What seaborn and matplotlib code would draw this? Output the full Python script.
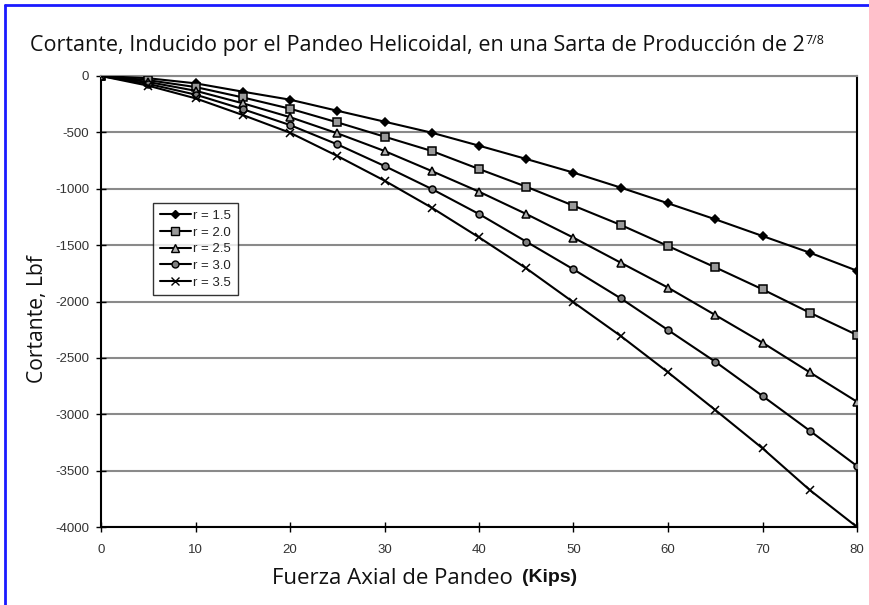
import matplotlib
matplotlib.use("Agg")
import matplotlib.pyplot as plt
from matplotlib.lines import Line2D
import numpy as np
import pandas as pd
import seaborn as sns

# Axial buckling load (kips)
fuerza = [0, 5, 10, 15, 20, 25, 30, 35, 40, 45, 50, 55, 60, 65, 70, 75, 80]

# Induced shear (lbf) for each radial clearance ratio r
r_labels = ["r = 1.5", "r = 2.0", "r = 2.5", "r = 3.0", "r = 3.5"]
cort_15 = [0, -20, -65, -139, -210, -308, -405, -503, -618, -736, -857, -990, -1129, -1271, -1419, -1567, -1727]
cort_20 = [0, -37, -98, -190, -290, -411, -538, -665, -825, -982, -1150, -1321, -1508, -1697, -1892, -2099, -2297]
cort_25 = [0, -53, -131, -242, -365, -508, -665, -843, -1026, -1224, -1434, -1656, -1877, -2120, -2365, -2628, -2889]
cort_30 = [0, -70, -165, -294, -435, -606, -798, -1002, -1224, -1469, -1715, -1972, -2253, -2534, -2838, -3146, -3459]
cort_35 = [0, -86, -198, -346, -503, -709, -928, -1168, -1431, -1706, -2007, -2306, -2628, -2962, -3302, -3672, -4000]

x_ticks = [0, 10, 20, 30, 40, 50, 60, 70, 80]
y_ticks = [0, -500, -1000, -1500, -2000, -2500, -3000, -3500, -4000]

series = [cort_15, cort_20, cort_25, cort_30, cort_35]
df = pd.concat(
    [pd.DataFrame({"fuerza": fuerza, "cortante": vals, "r": lab})
     for lab, vals in zip(r_labels, series)],
    ignore_index=True,
)

sns.set_theme(style="white")
plt.rcParams["font.family"] = ["Liberation Sans", "DejaVu Sans"]
plt.rcParams["axes.unicode_minus"] = False

fig = plt.figure(figsize=(8.7, 6.05), dpi=100)
fig.patch.set_facecolor("white")
ax = fig.add_axes([101 / 870, 1 - 527 / 605, 756 / 870, 451 / 605])

markers = {"r = 1.5": "D", "r = 2.0": "s", "r = 2.5": "^", "r = 3.0": "o", "r = 3.5": "x"}
face = {"r = 1.5": "black", "r = 2.0": "#9a9a9a", "r = 2.5": "#b0b0b0",
        "r = 3.0": "#808080", "r = 3.5": "black"}
sizes = {"r = 1.5": 4.0, "r = 2.0": 5.2, "r = 2.5": 5.5, "r = 3.0": 5.0, "r = 3.5": 5.2}

# horizontal grid behind the curves
for yv in y_ticks:
    ax.axhline(yv, color="#8a8a8a", lw=1.5, zorder=0)

for lab in r_labels:
    sns.lineplot(
        data=df[df["r"] == lab], x="fuerza", y="cortante",
        color="black", linewidth=1.5, marker=markers[lab],
        markersize=sizes[lab], markerfacecolor=face[lab],
        markeredgecolor="black", markeredgewidth=1.1,
        ax=ax, zorder=3, label=lab, legend=False,
    )

ax.set_xlim(0, 80)
ax.set_ylim(-4000, 0)
ax.set_xticks(x_ticks)
ax.set_yticks(y_ticks)
ax.set_xticklabels([str(v) for v in x_ticks])
ax.set_yticklabels([str(v) for v in y_ticks])
ax.tick_params(axis="both", labelsize=9.5, colors="black", labelcolor="#333333",
               length=7, width=1, direction="inout", left=True, bottom=True)
ax.tick_params(axis="y", pad=5)
ax.tick_params(axis="x", pad=9)
for sp in ax.spines.values():
    sp.set_color("black")
    sp.set_linewidth(1.5)
ax.spines["top"].set_color("#8a8a8a")

ax.set_xlabel("")
ax.set_ylabel("")

# legend
handles = []
for lab in r_labels:
    handles.append(Line2D([0], [0], color="black", lw=1.5, marker=markers[lab],
                          markerfacecolor=face[lab], markeredgecolor="black",
                          markeredgewidth=1.0, markersize=sizes[lab]))
leg = ax.legend(handles, list(r_labels), loc="upper left",
                bbox_to_anchor=(52 / 756, 324 / 451), borderaxespad=0,
                frameon=True, fancybox=False, fontsize=9.5, handlelength=2.4,
                handletextpad=0.15, labelspacing=0.34, borderpad=0.5)
leg.get_frame().set_edgecolor("black")
leg.get_frame().set_linewidth(1.0)
for t in leg.get_texts():
    t.set_color("#222222")

# axis titles
fig.text(38 / 870, 1 - 319 / 605, "Cortante, Lbf", rotation=90, ha="center",
         va="center", fontsize=15.2, family=["Open Sans", "DejaVu Sans"], color="#111111")
fig.text(272 / 870, 1 - 578 / 605, "Fuerza Axial de Pandeo", ha="left",
         va="center", fontsize=16, family=["Open Sans", "DejaVu Sans"], color="#111111")
fig.text(522 / 870, 1 - 578 / 605, "(Kips)", ha="left", va="center",
         fontsize=14, fontweight="bold", color="#111111")

# title with superscript fraction
title = fig.text(30 / 870, 1 - 45 / 605,
                 "Cortante, Inducido por el Pandeo Helicoidal, en una Sarta de Producción de 2",
                 ha="left", va="center", fontsize=15.5,
                 family=["Open Sans", "DejaVu Sans"], color="#111111")
fig.canvas.draw()
bb = title.get_window_extent(renderer=fig.canvas.get_renderer())
fig.text(bb.x1 / fig.bbox.width + 0.001, 1 - 40 / 605, "7/8", ha="left",
         va="center", fontsize=9, family=["Open Sans", "DejaVu Sans"], color="#111111")

# blue frame along top and left edges
fig.add_artist(Line2D([5 / 870, 1.0], [1 - 5 / 605, 1 - 5 / 605],
                      transform=fig.transFigure, color="#1a1aff", lw=2))
fig.add_artist(Line2D([5 / 870, 5 / 870], [0, 1 - 5 / 605],
                      transform=fig.transFigure, color="#1a1aff", lw=2))

fig.savefig("out.png", dpi=100, facecolor="white")
